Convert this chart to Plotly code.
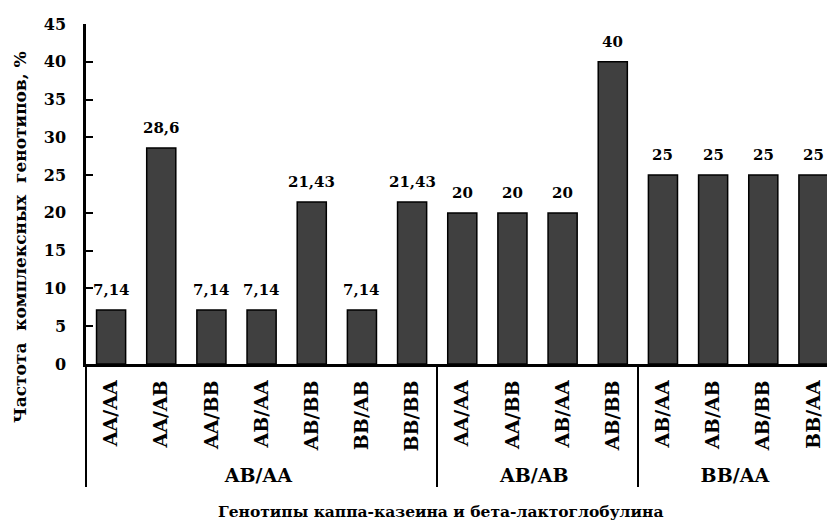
import plotly.graph_objects as go

groups = ["AB/AA"] * 7 + ["AB/AB"] * 4 + ["BB/AA"] * 4
genotypes = ["AA/AA", "AA/AB", "AA/BB", "AB/AA", "AB/BB", "BB/AB", "BB/BB",
             "AA/AA", "AA/BB", "AB/AA", "AB/BB",
             "AB/AA", "AB/AB", "AB/BB", "BB/AA"]
values = [7.14, 28.6, 7.14, 7.14, 21.43, 7.14, 21.43,
          20, 20, 20, 40,
          25, 25, 25, 25]
labels = [("%g" % v).replace(".", ",") for v in values]
y_ticks = list(range(0, 50, 5))

FONT = "DejaVu Serif"

# feed the trace so inner categories first appear in alphabetical order;
# plotly then lays out each group in that order (same as the original chart)
order = sorted(range(len(values)), key=lambda i: (genotypes[i], groups[i]))

fig = go.Figure()
fig.add_trace(go.Bar(
    x=[[groups[i] for i in order], [genotypes[i] for i in order]],
    y=[values[i] for i in order],
    marker=dict(color="#404040", line=dict(color="black", width=1.5)),
    width=0.58,
))

for i, (v, t) in enumerate(zip(values, labels)):
    fig.add_annotation(x=i, y=v, xref="x", yref="y", text=t, showarrow=False,
                       yanchor="bottom", yshift=9,
                       font=dict(family=FONT, size=15, color="black", weight="bold"))

fig.add_annotation(text="Частота\u00a0 комплексных\u00a0 генотипов, %",
                   xref="paper", yref="paper", x=-0.089, y=0.374, xanchor="center", yanchor="middle",
                   textangle=-90, showarrow=False,
                   font=dict(family=FONT, size=17, color="black", weight="bold"))
fig.add_annotation(text="Генотипы каппа-казеина и бета-лактоглобулина",
                   xref="paper", yref="paper", x=0.479, y=-0.435, xanchor="center", yanchor="middle",
                   showarrow=False,
                   font=dict(family=FONT, size=15.5, color="black", weight="bold"))

fig.update_layout(
    width=827, height=526,
    margin=dict(l=86, r=0, t=24, b=162),
    plot_bgcolor="white", paper_bgcolor="white",
    showlegend=False,
    font=dict(family=FONT, size=16, color="black", weight="bold"),
    bargap=0.42,
)
fig.update_yaxes(range=[0, 45], tickvals=y_ticks, ticks="inside", ticklen=7, tickwidth=2,
                 tickcolor="black", showline=True, linecolor="black", linewidth=2.5,
                 showgrid=False, zeroline=False, ticklabelstandoff=14,
                 tickfont=dict(family=FONT, size=16, color="black", weight="bold"))
fig.update_xaxes(type="multicategory",
                 range=[-0.5, 14.27], tickangle=-90, ticklabelstandoff=6,
                 showline=True, linecolor="black", linewidth=2.5, showgrid=False,
                 showdividers=True, dividercolor="black", dividerwidth=2,
                 tickfont=dict(family=FONT, size=19, color="black", weight="bold"))

fig.write_html("out.html")
